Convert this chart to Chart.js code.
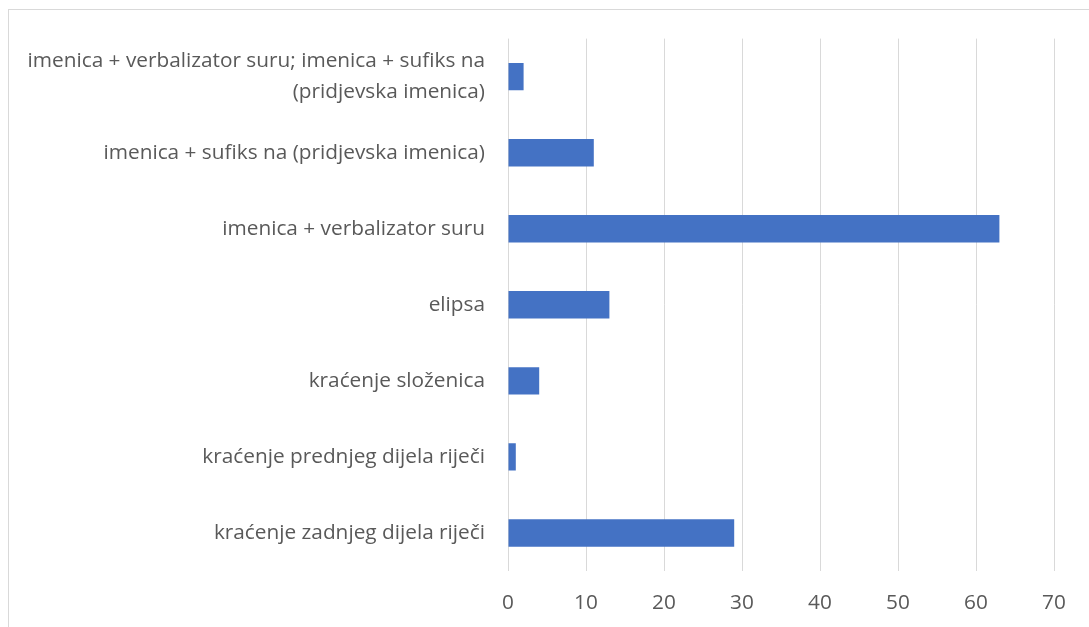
<!DOCTYPE html>
<html>
<head>
<meta charset="utf-8">
<script src="https://cdn.jsdelivr.net/npm/chart.js@4/dist/chart.umd.min.js"></script>
<style>
html,body{margin:0;padding:0;background:#fff;}
#wrap{width:1089px;height:627px;position:relative;}
</style>
</head>
<body>
<div id="wrap"><canvas id="c" width="1089" height="627"></canvas></div>
<script>
const categories = [
  ["imenica + verbalizator suru; imenica + sufiks na", "(pridjevska imenica)"],
  "imenica + sufiks na (pridjevska imenica)",
  "imenica + verbalizator suru",
  "elipsa",
  "kraćenje složenica",
  "kraćenje prednjeg dijela riječi",
  "kraćenje zadnjeg dijela riječi"
];
const values = [2, 11, 63, 13, 4, 1, 29];
const xMin = 0, xMax = 70, xStep = 10;

const frame = {
  id: 'frame',
  beforeDraw(chart) {
    const ctx = chart.ctx;
    ctx.save();
    ctx.fillStyle = '#fff';
    ctx.fillRect(0, 0, chart.width, chart.height);
    ctx.strokeStyle = '#d9d9d9';
    ctx.lineWidth = 1;
    ctx.strokeRect(8.5, 9.5, chart.width + 10, chart.height + 10);
    ctx.restore();
  }
};

new Chart(document.getElementById('c'), {
  type: 'bar',
  data: {
    labels: categories,
    datasets: [{
      data: values,
      backgroundColor: '#4472C4',
      borderWidth: 0,
      categoryPercentage: 0.36,
      barPercentage: 1
    }]
  },
  options: {
    indexAxis: 'y',
    responsive: false,
    animation: false,
    plugins: { legend: { display: false }, tooltip: { enabled: false } },
    layout: { padding: { top: 38, right: 35, left: 0, bottom: 0 } },
    scales: {
      x: {
        min: xMin, max: xMax,
        ticks: { stepSize: xStep, color: '#595959', padding: 20, font: { family: 'Open Sans', size: 20.8 } },
        grid: { color: '#d9d9d9', lineWidth: 1, drawTicks: false },
        border: { display: false },
        afterFit(s) { s.height = 56; }
      },
      y: {
        ticks: { color: '#595959', padding: 23, font: { family: 'Open Sans', size: 20.8, lineHeight: 1.5 } },
        grid: { display: false, drawTicks: false },
        border: { display: false },
        afterFit(s) { s.width = 508; }
      }
    }
  },
  plugins: [frame]
});
</script>
</body>
</html>
